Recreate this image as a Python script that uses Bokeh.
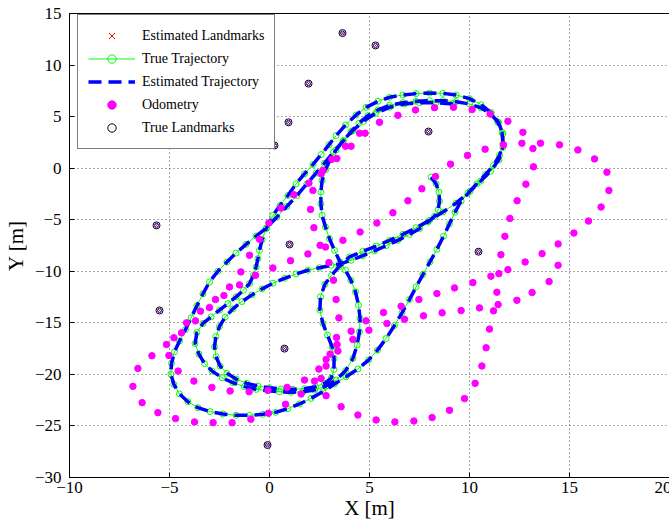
from bokeh.plotting import figure
from bokeh.models import Legend, LegendItem, FixedTicker
from bokeh.embed import file_html
from bokeh.resources import INLINE

FONT = "Liberation Serif"

# ---- data ----
x_ticks = [-10, -5, 0, 5, 10, 15, 20]
y_ticks = [-30, -25, -20, -15, -10, -5, 0, 5, 10, 15]

# true landmarks
lm_x = [3.65, 5.3, 1.95, 0.95, 0.25, 7.95, -5.65, 1.0, 10.45, -5.5, 0.75, -0.1]
lm_y = [13.1, 11.9, 8.2, 4.45, 2.2, 3.55, -5.55, -7.4, -8.1, -13.8, -17.5, -26.85]
# estimated landmarks
elm_x = [3.65, 5.3, 1.95, 0.95, 0.25, 7.95, -5.65, 1.0, 10.45, -5.5, 0.75, -0.1]
elm_y = [13.1, 11.9, 8.2, 4.45, 2.2, 3.55, -5.55, -7.4, -8.1, -13.8, -17.5, -26.85]

# true trajectory
true_x = [
    8.08, 8.33, 8.47, 8.50, 8.43, 8.25, 7.92,
    7.50, 7.00, 6.42, 5.83, 5.25, 4.67, 4.08, 3.58,
    3.08, 2.50, 1.92, 1.33, 0.75, 0.17, -0.37, -0.88, -1.38, -1.83, -2.22, -2.50, -2.68, -2.75,
    -2.67, -2.47, -2.13, -1.67, -1.13, -0.58, 0.00, 0.58, 1.17, 1.75, 2.30, 2.75, 3.08,
    3.22, 3.23, 3.13, 2.90, 2.67, 2.52, 2.55, 2.77, 3.10, 3.47,
    4.00, 4.67, 5.33, 6.00, 6.67, 7.33, 8.00, 8.67, 9.33, 9.92,
    10.37, 10.80, 11.20, 11.50, 11.67, 11.63, 11.42, 11.08,
    10.58, 10.00, 9.33, 8.67, 8.00, 7.33, 6.67, 6.00, 5.42, 4.92, 4.47, 4.08, 3.70, 3.33, 3.03,
    2.80, 2.63, 2.57, 2.57, 2.63, 2.80, 3.00, 3.25, 3.53,
    3.80, 4.07, 4.30, 4.45, 4.53, 4.50, 4.38, 4.17, 3.80, 3.33, 2.83,
    2.25, 1.67, 1.08, 0.50, -0.08, -0.67, -1.25, -1.83, -2.37, -2.87, -3.25, -3.53,
    -3.72, -3.63, -3.33, -2.92, -2.50, -2.08, -1.67, -1.30, -1.00, -0.80, -0.67, -0.58, -0.50, -0.37, -0.17,
    0.17, 0.53, 0.92, 1.33, 1.75, 2.17, 2.58, 2.97, 3.33, 3.80, 4.33, 4.83, 5.42, 6.00, 6.67, 7.33,
    8.00, 8.67, 9.33, 10.00, 10.58, 11.08, 11.45,
    11.67, 11.67, 11.47, 11.05, 10.55, 10.03,
    9.58, 9.28, 9.00, 8.70, 8.37, 8.02, 7.67, 7.33, 7.00, 6.63, 6.25, 5.83, 5.40, 4.95, 4.42, 3.83,
    3.25, 2.67,
    2.08, 1.50, 0.92, 0.30, -0.33, -1.00, -1.67, -2.33, -2.97, -3.58, -4.08, -4.50, -4.78, -4.93, -4.90,
    -4.75, -4.50, -4.20, -3.92, -3.63, -3.33, -3.00, -2.58, -2.13, -1.67, -1.17, -0.67, -0.13,
    0.37, 0.87, 1.37, 1.87, 2.33, 2.75, 3.20, 3.67, 4.17, 4.70, 5.30, 6.00, 6.75, 7.50, 8.33, 9.17,
]
true_y = [
    -0.87, -1.52, -2.32, -3.19, -4.03, -4.68, -5.23,
    -5.87, -6.42, -7.00, -7.52, -8.03, -8.48, -8.94, -9.26,
    -9.42, -9.65, -9.90, -10.26, -10.68, -11.16, -11.71, -12.29, -12.94, -13.65, -14.45, -15.35, -16.32, -17.32,
    -18.29, -19.19, -19.90, -20.45, -20.87, -21.13, -21.29, -21.42, -21.45, -21.39, -21.19, -20.87, -20.39,
    -19.52, -18.45, -17.32, -16.19, -15.06, -13.77, -12.48, -11.26, -10.39, -9.58,
    -8.61, -8.06, -7.55, -7.00, -6.42, -5.77, -5.06, -4.26, -3.39, -2.42,
    -1.52, -0.61, 0.26, 1.23, 2.35, 3.48, 4.45, 5.26,
    5.84, 6.23, 6.45, 6.55, 6.55, 6.48, 6.35, 6.10, 5.65, 5.10, 4.35, 3.55, 2.68, 1.77, 0.81,
    -0.16, -1.19, -2.32, -3.45, -4.58, -5.71, -6.84, -7.97, -9.10,
    -9.90, -10.87, -12.00, -13.29, -14.58, -15.87, -17.16, -18.45, -19.65, -20.55, -21.13,
    -21.52, -21.68, -21.74, -21.68, -21.58, -21.45, -21.19, -20.81, -20.32, -19.68, -18.94, -18.03,
    -17.00, -15.94, -15.06, -14.42, -13.77, -13.13, -12.48, -11.84, -11.19, -10.39, -9.58, -8.77, -7.97, -6.94, -5.87,
    -4.58, -3.61, -2.65, -1.52, -0.55, 0.35, 1.32, 2.26, 3.16, 4.19, 5.16, 5.90, 6.48, 6.87, 7.10, 7.23,
    7.29, 7.26, 7.10, 6.74, 6.16, 5.39, 4.45,
    3.32, 2.03, 0.81, -0.29, -1.26, -2.23,
    -3.19, -4.26, -5.39, -6.61, -7.87, -9.10, -10.32, -11.52, -12.74, -14.00, -15.26, -16.52, -17.65, -18.61, -19.48, -20.23,
    -20.94, -21.68,
    -22.32, -22.87, -23.32, -23.68, -23.87, -23.97, -23.97, -23.84, -23.61, -23.23, -22.65, -21.90, -20.97, -19.97, -18.94,
    -17.81, -16.77, -15.65, -14.52, -13.35, -12.19, -11.03, -10.00, -9.10, -8.23, -7.39, -6.58, -5.77,
    -4.74, -3.71, -2.65, -1.52, -0.48, 0.48, 1.55, 2.61, 3.65, 4.55, 5.32, 5.90, 6.23, 6.35, 6.35, 6.23,
]

# estimated trajectory (follows the true one within line width)
est_x = list(true_x)
est_y = list(true_y)

# odometry
odo_x = [8.30, 7.62, 6.92, 6.17, 5.37, 4.53, 3.67, 2.80, 2.53, 1.92, 1.05, 0.17, -0.70, -1.43, -1.50,
         -2.00, -2.28, -2.70, -3.00, -3.45, -3.70, -4.15, -4.40, -4.78, -5.15, -5.03, -5.88, -4.57,
         -6.58, -6.83, -6.37, -5.58, -4.70, -3.75, -2.82, -1.87, -0.93, -0.05, 0.80, 1.58, 2.83, 3.58,
         4.42, 5.33, 6.27, 7.22, 8.13, 9.00, 9.75, 10.28, 10.62, 10.83, 11.00, 11.20, 11.43, 11.37,
         11.47, 11.57, 11.77, 12.02, 12.38, 12.82, 13.20, 13.17, 12.62, 12.67, 11.92, 11.03, 10.13,
         9.20, 8.25, 7.30, 6.42, 5.50, 4.78, 4.50, 4.08, 3.80, 3.37, 3.12, 2.67, 2.58, 1.97, 2.17,
         1.22, 2.05, 0.57, -0.03, 2.22, -0.50, -1.00, 2.97, 3.20, 3.33, 3.47, 4.08, 4.17, 3.35, 3.38,
         3.42, 3.03, 2.83, 2.83, 2.47, 2.58, 2.25, 1.75, 0.88, -0.08, -1.02, -1.97, -2.88, -3.78,
         4.83, 4.97, 5.70, 5.87, 6.58, 6.75, 7.47, 7.70, 8.37, 8.63, 9.25, 9.58, 10.17, 10.50, 11.07,
         11.92, 12.78, 12.37, 13.13, 13.98, 14.43, 13.63, 14.43, 15.22, 15.95, 16.58, 16.97, 16.87,
         16.25, 15.42, 14.50, 13.55, 11.70, 10.78, 9.90, 9.05]
odo_y = [-0.81, -2.00, -3.16, -4.32, -5.32, -6.19, -7.00, -7.65, -7.48, -8.32, -8.97, -9.68, -10.39,
         -10.06, -11.32, -11.52, -12.35, -12.74, -13.52, -13.87, -14.81, -15.00, -15.97, -16.45,
         -17.10, -18.16, -18.19, -19.68, -19.42, -21.16, -22.74, -23.71, -24.29, -24.61, -24.68,
         -24.68, -24.35, -23.77, -22.90, -21.90, -22.06, -23.13, -23.94, -24.42, -24.61, -24.52,
         -24.19, -23.48, -22.35, -20.87, -19.19, -17.42, -15.61, -13.84, -13.23, -12.03, -10.23,
         -8.39, -6.61, -4.87, -3.16, -1.55, 0.13, 1.90, 2.42, 3.48, 4.55, 5.26, 5.68, 5.90, 5.87,
         5.65, 5.13, 4.45, 3.39, 3.39, 2.13, 2.13, 0.94, 0.87, -0.23, -0.55, -1.45, -2.16, -2.58,
         -4.00, -3.87, -5.32, -5.77, -6.90, -8.45, -9.16, -10.87, -12.74, -14.52, -15.81, -16.61,
         -16.42, -17.10, -17.74, -18.03, -18.55, -19.19, -19.48, -20.39, -20.65, -20.55, -21.26,
         -21.55, -21.68, -21.61, -21.26, -20.65, -14.81, -15.71, -14.00, -15.06, -13.39, -14.65,
         -12.74, -14.32, -12.16, -14.03, -11.61, -13.81, -11.10, -13.55, -10.48, -9.84, -9.10,
         -12.81, -12.06, -11.00, -9.42, -8.29, -7.35, -6.29, -5.13, -3.77, -2.16, -0.39, 0.90,
         1.77, 2.26, 2.42, 2.26, 1.84, 1.23, 0.39]

labels = ["Estimated Landmarks", "True Trajectory", "Estimated Trajectory", "Odometry", "True Landmarks"]

# ---- figure ----
p = figure(frame_width=600, frame_height=464, x_range=(-10, 20), y_range=(-30, 15),
           output_backend="svg", toolbar_location=None,
           min_border_left=67, min_border_right=2, min_border_top=13, min_border_bottom=46,
           background_fill_color="white", border_fill_color="white")
p.outline_line_color = "black"
p.outline_line_width = 1

p.xaxis.ticker = FixedTicker(ticks=x_ticks)
p.yaxis.ticker = FixedTicker(ticks=y_ticks)
p.xaxis.axis_label = "X [m]"
p.yaxis.axis_label = "Y [m]"
for ax in (p.xaxis[0], p.yaxis[0]):
    ax.major_label_text_font = FONT
    ax.major_label_text_font_size = "17px"
    ax.major_label_text_color = "black"
    ax.axis_label_text_font = FONT
    ax.axis_label_text_font_size = "21px"
    ax.axis_label_text_font_style = "normal"
    ax.axis_label_text_color = "black"
    ax.major_tick_in = 5
    ax.major_tick_out = 0
    ax.minor_tick_in = 0
    ax.minor_tick_out = 0
    ax.axis_line_color = "black"
    ax.major_tick_line_color = "black"
p.xaxis.major_label_standoff = 4
p.xaxis.axis_label_standoff = 0
p.yaxis.major_label_standoff = 8
p.yaxis.axis_label_standoff = 4

p.xgrid.ticker = FixedTicker(ticks=x_ticks)
p.ygrid.ticker = FixedTicker(ticks=y_ticks)
p.grid.grid_line_color = "#555555"
p.grid.grid_line_dash = "1 3"
p.grid.grid_line_width = 1

# ---- glyphs ----
r_tline = p.line(true_x, true_y, line_color="#00FF00", line_width=1)
r_tcirc = p.scatter(true_x, true_y, marker="circle", size=6, fill_color=None,
                    line_color="#00FF00", line_width=1)
r_est = p.line(est_x, est_y, line_color="#0000FF", line_width=3.5, line_dash="13 7")
r_odo = p.scatter(odo_x, odo_y, marker="circle", size=6.5, fill_color="#FF00FF",
                  line_color="#FF00FF")
r_truelm = p.scatter(lm_x, lm_y, marker="circle", size=7, fill_color=None,
                     line_color="black", line_width=1)
p.scatter(elm_x, elm_y, marker="circle", size=4, fill_color=None, line_color="#0000FF", line_width=1)
r_estlm = p.scatter(elm_x, elm_y, marker="x", size=4, line_color="#FF0000", line_width=1)

legend = Legend(items=[
    LegendItem(label=labels[0], renderers=[r_estlm]),
    LegendItem(label=labels[1], renderers=[r_tline, r_tcirc]),
    LegendItem(label=labels[2], renderers=[r_est]),
    LegendItem(label=labels[3], renderers=[r_odo]),
    LegendItem(label=labels[4], renderers=[r_truelm]),
], location=(8, 328))
legend.margin = 0
legend.padding = 10
legend.spacing = 2
legend.glyph_width = 47
legend.glyph_height = 21
legend.label_height = 21
legend.label_standoff = 7
legend.label_text_font = FONT
legend.label_text_font_size = "14px"
legend.label_text_color = "black"
legend.border_line_color = "black"
legend.border_line_width = 1
legend.background_fill_color = "white"
legend.background_fill_alpha = 1
p.add_layout(legend)

open("out.html", "w").write(file_html(p, INLINE))
